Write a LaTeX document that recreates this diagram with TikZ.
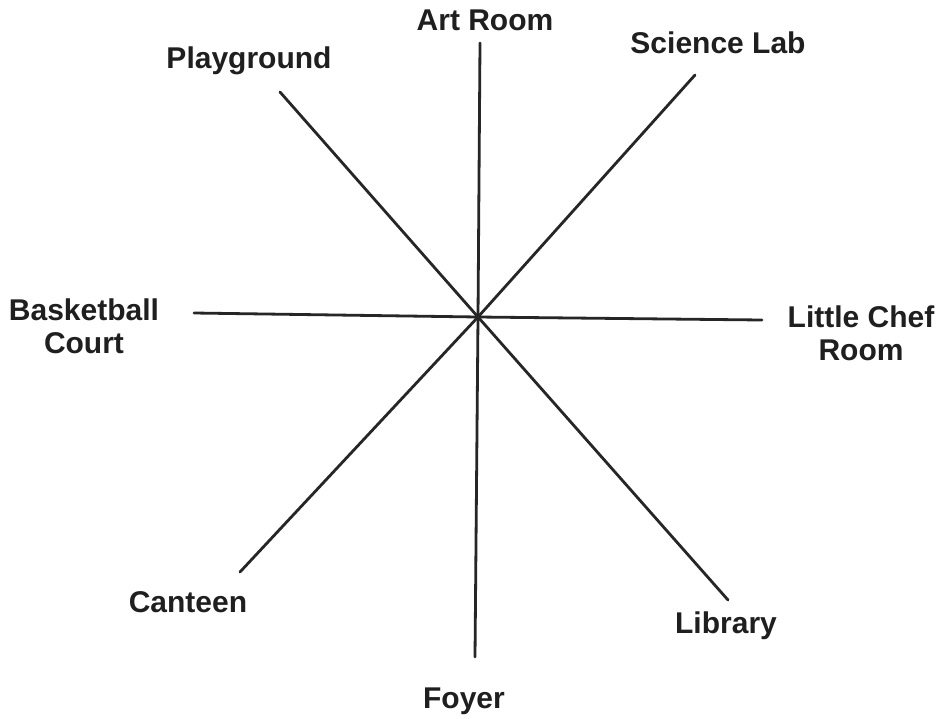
\documentclass[tikz,border=0pt]{standalone}
\usepackage{fontspec}
\setmainfont{Liberation Sans}
\begin{document}
\begin{tikzpicture}[x=1pt,y=-1pt,
  lbl/.style={font=\bfseries\fontsize{30}{33}\selectfont, anchor=base, inner sep=0pt, align=center, text=black!88},
  spoke/.style={line width=2.8pt, black!85, line cap=round}]
\useasboundingbox[fill=white] (0,0) rectangle (939,718);
% centre and spoke ends
\coordinate (c) at (478,317);
\coordinate (eArt) at (480,43);
\coordinate (eFoy) at (475,657);
\coordinate (ePlay) at (280,92);
\coordinate (eLib) at (728,600);
\coordinate (eSci) at (695,75);
\coordinate (eCan) at (240,572);
\coordinate (eBas) at (194,313);
\coordinate (eChef) at (762,320);
% spokes
\draw[spoke] (eArt) -- (c) -- (eFoy);
\draw[spoke] (ePlay) -- (c) -- (eLib);
\draw[spoke] (eSci) -- (c) -- (eCan);
\draw[spoke] (eBas) -- (c) -- (eChef);
% labels
\node[lbl] (art) at (485,30) {Art Room};
\node[lbl] (play) at (249,68) {Playground};
\node[lbl] (sci) at (718,53) {Science Lab};
\node[lbl] (bas) at (84,353) {Basketball\\Court};
\node[lbl] (chef) at (861,360) {Little Chef\\Room};
\node[lbl] (can) at (188,612) {Canteen};
\node[lbl] (lib) at (726,633) {Library};
\node[lbl] (foy) at (464,708) {Foyer};
\end{tikzpicture}
\end{document}
